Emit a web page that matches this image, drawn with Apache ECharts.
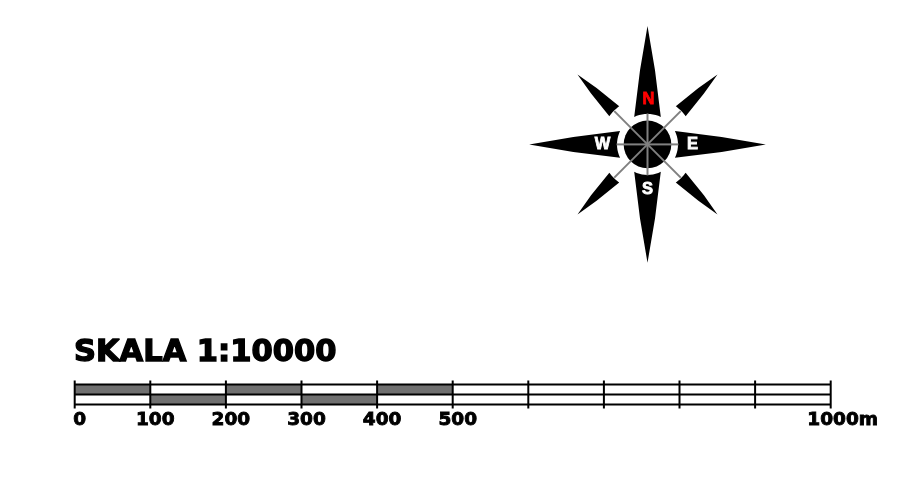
<!DOCTYPE html>
<html>
<head>
<meta charset="utf-8">
<style>html,body{margin:0;padding:0;background:#fff}#c{width:913px;height:486px}</style>
<script src="https://cdn.jsdelivr.net/npm/echarts@6/dist/echarts.min.js"></script>
</head>
<body>
<div id="c"></div>
<script>
// Scale bar data (metres)
const scaleTitle = 'SKALA 1:10000';
const tickValues = [0,100,200,300,400,500,600,700,800,900,1000];
const labelValues = [0,100,200,300,400,500,1000];
const upperFilled = [[0,100],[200,300],[400,500]];
const lowerFilled = [[100,200],[300,400]];
const railLevels = [4,14,24];
const tickSpan = [0,28];
const lowerRow = [4,14];
const upperRow = [14,24];
// Compass data: bearing, outer radius, base radius, base half-width, shoulder radius, shoulder half-width
const mainBearings = [0,90,180,270];
const diagBearings = [45,135,225,315];
const mainArm = [118.3,30.5,13.3,74.5,7.5];
const diagArm = [99,47.5,7,76,3.9];
const hubRadius = 23.8;
const spokeMain = 31;
const spokeDiag = 47;
const letters = ['N','E','S','W'];
const letterBearings = [0,90,180,270];
const letterRadius = 45;
const letterColors = ['#ff0000','#ffffff','#ffffff','#ffffff'];

const FONT_BIG = '"DejaVu Sans"';
const BLACK = '#000', GREY = '#707070', SPOKE = '#808080';

function polar(api, bearing, r){
  const a = bearing*Math.PI/180;
  return api.coord([r*Math.sin(a), r*Math.cos(a)]);
}

const armData = mainBearings.map(b=>[b].concat(mainArm)).concat(diagBearings.map(b=>[b].concat(diagArm)));
const spokeData = mainBearings.map(b=>[b,spokeMain]).concat(diagBearings.map(b=>[b,spokeDiag]));
const letterData = letters.map((t,i)=>[letterBearings[i],letterRadius,t,letterColors[i]]);

const labelStyle = {fontFamily:FONT_BIG,fontWeight:'bold',fontSize:18.5,color:BLACK,textBorderColor:BLACK,textBorderWidth:0.9};

const option = {
  animation:false,
  backgroundColor:'#fff',
  title:{
    text:scaleTitle,left:69,top:333,
    textStyle:{fontFamily:FONT_BIG,fontWeight:'bold',fontSize:30.5,color:BLACK,textBorderColor:BLACK,textBorderWidth:1.4}
  },
  grid:[
    {left:74.7,top:380.5,width:756,height:28},
    {left:527.5,top:24.4,width:240,height:240}
  ],
  xAxis:[
    {type:'value',gridIndex:0,min:0,max:1000,splitLine:{show:false},axisLine:{show:false},axisTick:{show:false},
     axisLabel:{
       customValues:labelValues,margin:2,hideOverlap:false,showMinLabel:true,showMaxLabel:true,
       formatter:v=> v===1000 ? '{b|1000m}' : '{a|'+v+'}',
       rich:{
         a:Object.assign({padding:[0,0,0,10]},labelStyle),
         b:Object.assign({padding:[0,0,0,24]},labelStyle)
       }
     }},
    {type:'value',gridIndex:1,min:-120,max:120,show:false}
  ],
  yAxis:[
    {type:'value',gridIndex:0,min:0,max:28,show:false},
    {type:'value',gridIndex:1,min:-120,max:120,show:false}
  ],
  series:[
    { // filled segments
      type:'custom',xAxisIndex:0,yAxisIndex:0,clip:false,z:2,
      data:upperFilled.map(s=>s.concat(upperRow)).concat(lowerFilled.map(s=>s.concat(lowerRow))),
      renderItem:(p,api)=>{
        const a=api.coord([api.value(0),api.value(3)]), b=api.coord([api.value(1),api.value(2)]);
        return {type:'rect',shape:{x:a[0],y:a[1],width:b[0]-a[0],height:b[1]-a[1]},style:{fill:GREY}};
      }
    },
    { // horizontal rails
      type:'custom',xAxisIndex:0,yAxisIndex:0,clip:false,z:3,
      data:railLevels.map(v=>[v]),
      renderItem:(p,api)=>{
        const a=api.coord([tickValues[0],api.value(0)]), b=api.coord([tickValues[tickValues.length-1],api.value(0)]);
        return {type:'line',shape:{x1:a[0],y1:a[1],x2:b[0],y2:b[1]},style:{stroke:BLACK,lineWidth:2}};
      }
    },
    { // ticks
      type:'custom',xAxisIndex:0,yAxisIndex:0,clip:false,z:4,
      data:tickValues.map(v=>[v]),
      renderItem:(p,api)=>{
        const a=api.coord([api.value(0),tickSpan[0]]), b=api.coord([api.value(0),tickSpan[1]]);
        return {type:'line',shape:{x1:a[0],y1:a[1],x2:b[0],y2:b[1]},style:{stroke:BLACK,lineWidth:2}};
      }
    },
    { // compass arms
      type:'custom',xAxisIndex:1,yAxisIndex:1,clip:false,z:2,
      data:armData,
      renderItem:(p,api)=>{
        const b=api.value(0),o=api.value(1),r=api.value(2),h=api.value(3),sr=api.value(4),sh=api.value(5);
        const half=Math.asin(h/r)*180/Math.PI;
        const sa=Math.asin(sh/sr)*180/Math.PI;
        const pts=[polar(api,b,o),polar(api,b+sa,sr)];
        for(let i=0;i<=10;i++){ pts.push(polar(api,b+half-2*half*i/10,r)); }
        pts.push(polar(api,b-sa,sr));
        return {type:'polygon',shape:{points:pts},style:{fill:BLACK}};
      }
    },
    { // hub
      type:'custom',xAxisIndex:1,yAxisIndex:1,clip:false,z:3,
      data:[[0,0,hubRadius]],
      renderItem:(p,api)=>{
        const c=api.coord([api.value(0),api.value(1)]);
        return {type:'circle',shape:{cx:c[0],cy:c[1],r:api.value(2)},style:{fill:BLACK}};
      }
    },
    { // spokes
      type:'custom',xAxisIndex:1,yAxisIndex:1,clip:false,z:4,
      data:spokeData,
      renderItem:(p,api)=>{
        const c=api.coord([0,0]), e=polar(api,api.value(0),api.value(1));
        return {type:'line',shape:{x1:c[0],y1:c[1],x2:e[0],y2:e[1]},style:{stroke:SPOKE,lineWidth:2}};
      }
    },
    { // letters
      type:'custom',xAxisIndex:1,yAxisIndex:1,clip:false,z:5,
      data:letterData,
      dimensions:['bearing','radius',{name:'label',type:'ordinal'},{name:'color',type:'ordinal'}],
      renderItem:(p,api)=>{
        const d=letterData[p.dataIndex], c=polar(api,d[0],d[1]);
        return {type:'text',style:{x:c[0]+(d[2]==='N'?1:0),y:c[1],text:d[2],fill:d[3],stroke:d[3],lineWidth:0.8,
          font:'bold 16.5px "Liberation Sans"',textAlign:'center',textVerticalAlign:'middle'}};
      }
    }
  ]
};
const chart = echarts.init(document.getElementById('c'),null,{renderer:'canvas'});
chart.setOption(option);
</script>
</body>
</html>
